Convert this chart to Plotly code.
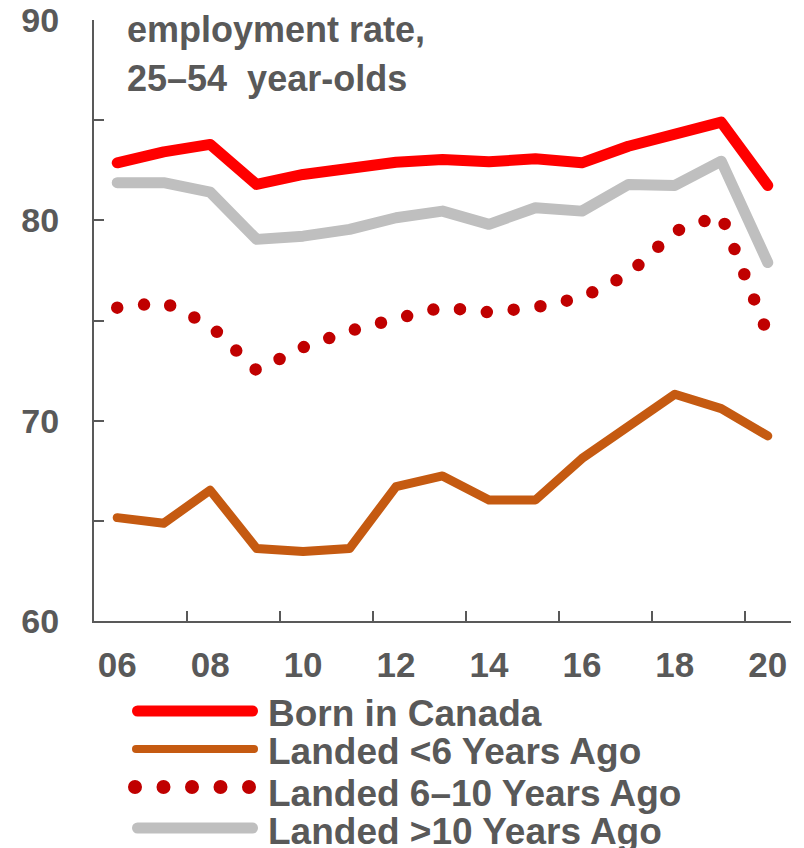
import plotly.graph_objects as go

years = list(range(2006, 2021))
born_in_canada = [82.87, 83.42, 83.79, 81.79, 82.29, 82.62, 82.90, 83.04, 82.92, 83.07, 82.87, 83.70, 84.29, 84.90, 81.74]
landed_lt6 = [65.16, 64.88, 66.53, 63.62, 63.47, 63.62, 66.71, 67.24, 66.04, 66.04, 68.11, 69.65, 71.32, 70.60, 69.24]
landed_6_10 = [75.64, 75.91, 74.76, 72.51, 73.66, 74.48, 75.08, 75.66, 75.41, 75.66, 76.15, 77.30, 79.45, 80.25, 74.31]
landed_gt10 = [81.88, 81.88, 81.41, 79.05, 79.21, 79.55, 80.13, 80.46, 79.80, 80.63, 80.46, 81.79, 81.74, 82.95, 77.89]

x_tick_vals = [2006, 2008, 2010, 2012, 2014, 2016, 2018, 2020]
x_tick_text = ["06", "08", "10", "12", "14", "16", "18", "20"]
x_minor_ticks = [2007.5, 2009.5, 2011.5, 2013.5, 2015.5, 2017.5, 2019.5]
y_tick_vals = [60, 70, 80, 90]

series_names = ["Born in Canada", "Landed <6 Years Ago", "Landed 6\u201310 Years Ago", "Landed >10 Years Ago"]
title_lines = ["employment rate,", "25\u201354\u00a0 year-olds"]

GRAY = "#595959"
FONT = "Liberation Sans"
W, H = 804, 848
ML, MR, MT, MB = 94, 13, 20, 227
PW, PH = W - ML - MR, H - MT - MB


def px_x(px):
    return (px - ML) / PW


def px_y(py):
    return (H - MB - py) / PH


fig = go.Figure()
fig.add_trace(go.Scatter(x=years, y=landed_gt10, mode="lines", name=series_names[3],
                         line=dict(color="#BFBFBF", width=11), showlegend=False))
fig.add_trace(go.Scatter(x=years, y=landed_6_10, mode="lines", name=series_names[2],
                         line=dict(color="#C00000", width=12.5, dash="0px,27px"), showlegend=False))
fig.add_trace(go.Scatter(x=years, y=landed_lt6, mode="lines", name=series_names[1],
                         line=dict(color="#C55A11", width=9), showlegend=False))
fig.add_trace(go.Scatter(x=years, y=born_in_canada, mode="lines", name=series_names[0],
                         line=dict(color="#FF0000", width=11), showlegend=False))

annotations = []
# title
for txt, mid in zip(title_lines, [30, 78]):
    annotations.append(dict(text="<b>%s</b>" % txt, xref="paper", yref="paper",
                            x=px_x(125), y=px_y(mid), xanchor="left", yanchor="middle",
                            showarrow=False, font=dict(family=FONT, size=36, color=GRAY)))

# manual legend
legend_rows = [
    (series_names[0], "#FF0000", 11, "solid", 711, 713),
    (series_names[1], "#C55A11", 8, "solid", 749, 751),
    (series_names[2], "#C00000", 14, "0px,28.5px", 787, 793),
    (series_names[3], "#BFBFBF", 11, "solid", 828, 831),
]
shapes = []
for name, color, width, dash, ly, ty in legend_rows:
    if dash == "solid":
        x0, x1 = 132 + width / 2, 258 - width / 2
    else:
        x0, x1 = 135, 249.5
    shapes.append(dict(type="line", xref="paper", yref="paper",
                       x0=px_x(x0), x1=px_x(x1), y0=px_y(ly), y1=px_y(ly),
                       line=dict(color=color, width=width, dash=dash)))
    annotations.append(dict(text="<b>%s</b>" % name, xref="paper", yref="paper",
                            x=px_x(266), y=px_y(ty), xanchor="left", yanchor="middle",
                            showarrow=False, font=dict(family=FONT, size=37, color=GRAY)))

fig.update_layout(
    width=W, height=H,
    margin=dict(l=ML, r=MR, t=MT, b=MB, pad=0, autoexpand=False),
    plot_bgcolor="white", paper_bgcolor="white",
    showlegend=False,
    annotations=annotations,
    shapes=shapes,
    font=dict(family=FONT, color=GRAY),
)
fig.update_xaxes(
    range=[2005.5, 2020.5], tickvals=x_tick_vals, ticktext=x_tick_text,
    ticks="", showgrid=False, zeroline=False, automargin=False,
    showline=True, linecolor=GRAY, linewidth=2,
    tickfont=dict(family=FONT, size=35, color=GRAY, weight="bold"),
    ticklabelstandoff=12,
    minor=dict(tickvals=x_minor_ticks, ticks="inside", ticklen=10, tickwidth=2, tickcolor=GRAY, showgrid=False),
)
fig.update_yaxes(
    range=[60, 90], tickvals=y_tick_vals, ticktext=[str(v) for v in y_tick_vals],
    ticks="inside", ticklen=10, tickwidth=2, tickcolor=GRAY,
    showgrid=False, zeroline=False, automargin=False,
    showline=True, linecolor=GRAY, linewidth=2,
    tickfont=dict(family=FONT, size=34, color=GRAY, weight="bold"),
    ticklabelstandoff=26,
    minor=dict(dtick=5, ticks="inside", ticklen=10, tickwidth=2, tickcolor=GRAY, showgrid=False),
)

post = """
document.body.style.margin = '0';
document.body.style.padding = '0';
var gd = document.getElementById('{plot_id}');
function fixCaps(){
  gd.querySelectorAll('.scatterlayer path.js-line, .shapelayer path').forEach(function(p){
    p.style.strokeLinecap = 'round'; p.style.strokeLinejoin = 'round';
  });
}
fixCaps();
gd.on('plotly_afterplot', fixCaps);
"""
fig.write_html("out.html", post_script=post, config={"displayModeBar": False})
